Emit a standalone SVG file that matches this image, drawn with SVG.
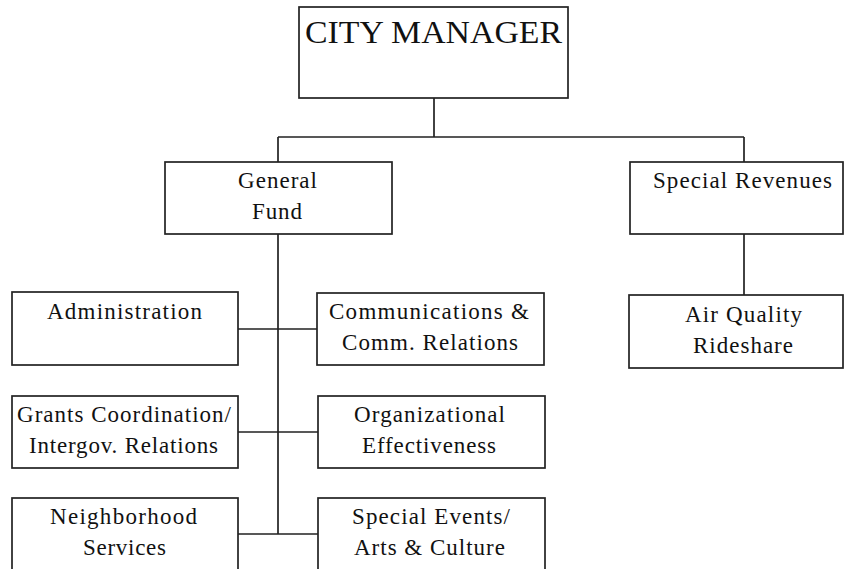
<svg xmlns="http://www.w3.org/2000/svg" width="846" height="569" viewBox="0 0 846 569">
<style>
.box{fill:#fff;stroke:#222;stroke-width:1.7}
.ln{stroke:#222;stroke-width:1.7;fill:none}
text{font-family:"Liberation Serif","Times New Roman",serif;font-size:23px;fill:#111;text-anchor:middle}
.big{font-size:32px}
</style>
<rect width="846" height="569" fill="#fff"/>
<g id="connectors">
<path class="ln" d="M434 98V137M278 137H744M278 137V162M744 137V162M278 234V534M744 234V295M238 329H317M238 432H318M238 534H318"/>
</g>
<g id="city-manager">
<rect class="box" x="299" y="7" width="269" height="91"/>
<text class="big" x="433.5" y="43" textLength="257" lengthAdjust="spacingAndGlyphs">CITY MANAGER</text>
</g>
<g id="general-fund">
<rect class="box" x="165" y="162" width="227" height="72"/>
<text x="277.5" y="188" textLength="79" lengthAdjust="spacing">General</text>
<text x="277" y="219" textLength="50" lengthAdjust="spacing">Fund</text>
</g>
<g id="special-revenues">
<rect class="box" x="630" y="162" width="213" height="72"/>
<text x="742.5" y="188" textLength="179" lengthAdjust="spacing">Special Revenues</text>
</g>
<g id="air-quality">
<rect class="box" x="629" y="295" width="214" height="73"/>
<text x="743.5" y="322" textLength="117" lengthAdjust="spacing">Air Quality</text>
<text x="743" y="353" textLength="100" lengthAdjust="spacing">Rideshare</text>
</g>
<g id="administration">
<rect class="box" x="12" y="292" width="226" height="73"/>
<text x="124.5" y="319" textLength="155" lengthAdjust="spacing">Administration</text>
</g>
<g id="communications">
<rect class="box" x="317" y="293" width="227" height="72"/>
<text x="429" y="319" textLength="200" lengthAdjust="spacing">Communications &amp;</text>
<text x="430" y="350" textLength="176" lengthAdjust="spacing">Comm. Relations</text>
</g>
<g id="grants">
<rect class="box" x="12" y="396" width="226" height="72"/>
<text x="124" y="422" textLength="214" lengthAdjust="spacing">Grants Coordination/</text>
<text x="123.5" y="453" textLength="189" lengthAdjust="spacing">Intergov. Relations</text>
</g>
<g id="organizational">
<rect class="box" x="318" y="396" width="227" height="72"/>
<text x="429.5" y="422" textLength="151" lengthAdjust="spacing">Organizational</text>
<text x="429" y="453" textLength="134" lengthAdjust="spacing">Effectiveness</text>
</g>
<g id="neighborhood">
<rect class="box" x="12" y="498" width="226" height="90"/>
<text x="123.5" y="524" textLength="147" lengthAdjust="spacing">Neighborhood</text>
<text x="124.5" y="555" textLength="83" lengthAdjust="spacing">Services</text>
</g>
<g id="special-events">
<rect class="box" x="318" y="498" width="227" height="90"/>
<text x="431" y="524" textLength="158" lengthAdjust="spacing">Special Events/</text>
<text x="429.5" y="555" textLength="151" lengthAdjust="spacing">Arts &amp; Culture</text>
</g>
</svg>
